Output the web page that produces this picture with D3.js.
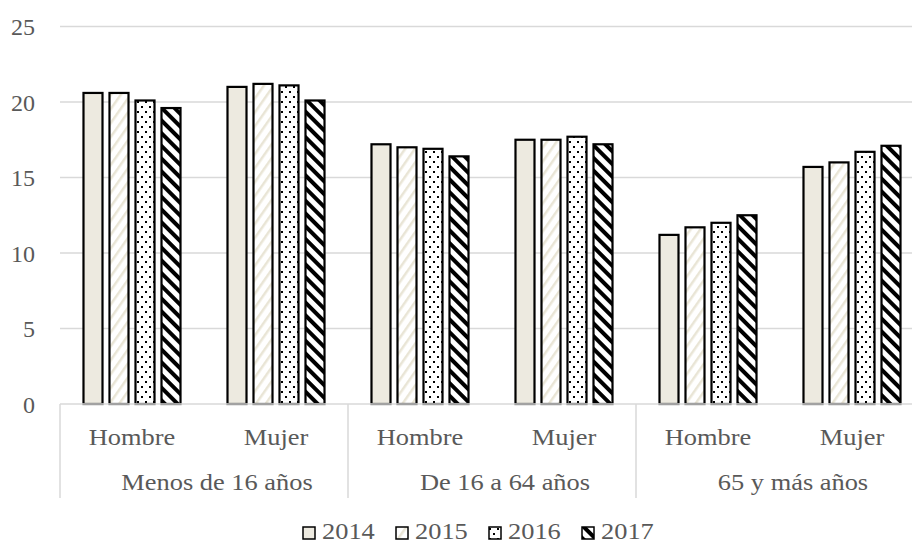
<!DOCTYPE html>
<html>
<head>
<meta charset="utf-8">
<script src="https://cdn.jsdelivr.net/npm/d3@7"></script>
<style>
  body { margin: 0; background: #fff; }
</style>
</head>
<body>
<svg id="chart" width="912" height="544"></svg>
<script>
// data
const groups = ["Menos de 16 años", "De 16 a 64 años", "65 y más años"];
const sexes = ["Hombre", "Mujer"];
const years = ["2014", "2015", "2016", "2017"];
const yTicks = [0, 5, 10, 15, 20, 25];
// values per year, order: group x sex
const v2014 = [20.6, 21.0, 17.2, 17.5, 11.2, 15.7];
const v2015 = [20.6, 21.2, 17.0, 17.5, 11.7, 16.0];
const v2016 = [20.1, 21.1, 16.9, 17.7, 12.0, 16.7];
const v2017 = [19.6, 20.1, 16.4, 17.2, 12.5, 17.1];

const series = [v2014, v2015, v2016, v2017];
const rows = [];
groups.forEach((g, gi) => sexes.forEach((s, si) => {
  const idx = gi * 2 + si;
  years.forEach((y, yi) => rows.push({ group: g, sex: s, year: y, value: series[yi][idx] }));
}));

const svg = d3.select("#chart");
const txt = "#595959", grid = "#d9d9d9";
const font = "Liberation Serif";

// patterns
const defs = svg.append("defs");
let p = defs.append("pattern").attr("id", "p2015").attr("patternUnits", "userSpaceOnUse")
  .attr("width", 8).attr("height", 8).attr("patternTransform", "rotate(35)");
p.append("rect").attr("width", 8).attr("height", 8).attr("fill", "#fff");
p.append("rect").attr("x", 0).attr("width", 2.5).attr("height", 8).attr("fill", "#e9e5d6");

p = defs.append("pattern").attr("id", "p2016").attr("patternUnits", "userSpaceOnUse")
  .attr("width", 8).attr("height", 10);
p.append("rect").attr("width", 8).attr("height", 10).attr("fill", "#fff");
p.append("rect").attr("x", 1).attr("y", 1).attr("width", 2).attr("height", 2).attr("fill", "#000");
p.append("rect").attr("x", 5).attr("y", 6).attr("width", 2).attr("height", 2).attr("fill", "#000");

p = defs.append("pattern").attr("id", "p2017").attr("patternUnits", "userSpaceOnUse")
  .attr("width", 9).attr("height", 9).attr("patternTransform", "rotate(-45)");
p.append("rect").attr("width", 9).attr("height", 9).attr("fill", "#fff");
p.append("rect").attr("x", 0).attr("width", 4).attr("height", 9).attr("fill", "#000");

const fills = { "2014": "#edeae0", "2015": "url(#p2015)", "2016": "url(#p2016)", "2017": "url(#p2017)" };

// scales
const x0 = d3.scaleBand().domain(groups).range([60, 924]);
const x1 = d3.scaleBand().domain(sexes).range([0, x0.bandwidth()]);
const x2 = d3.scaleBand().domain(years).range([0, x1.bandwidth()])
  .paddingInner(0.192).paddingOuter(0.865);
const y = d3.scaleLinear().domain([0, 25]).range([404, 26.5]);

// gridlines
svg.append("g").selectAll("line").data(yTicks.filter(d => d > 0)).enter().append("line")
  .attr("x1", 60).attr("x2", 912)
  .attr("y1", d => y(d)).attr("y2", d => y(d))
  .attr("stroke", grid).attr("stroke-width", 1.5);

// y labels
const yAxis = svg.append("g").attr("transform", "translate(35,0)")
  .call(d3.axisLeft(y).tickValues(yTicks).tickSize(0).tickPadding(0));
yAxis.select(".domain").remove();
yAxis.selectAll("text").attr("fill", txt).attr("font-size", 24)
  .attr("font-family", font).attr("dy", "0.35em");

// bars
svg.append("g").selectAll("rect").data(rows).enter().append("rect")
  .attr("x", d => x0(d.group) + x1(d.sex) + x2(d.year) + 1)
  .attr("y", d => y(d.value))
  .attr("width", x2.bandwidth() - 2)
  .attr("height", d => y(0) - y(d.value))
  .attr("fill", d => fills[d.year])
  .attr("stroke", "#000").attr("stroke-width", 2.2);

// category axis
svg.append("line").attr("x1", 60).attr("x2", 912).attr("y1", 404).attr("y2", 404)
  .attr("stroke", grid).attr("stroke-width", 1.5);
svg.append("g").selectAll("line").data(groups.concat(["end"])).enter().append("line")
  .attr("x1", (d, i) => 60 + i * x0.bandwidth()).attr("x2", (d, i) => 60 + i * x0.bandwidth())
  .attr("y1", 404).attr("y2", 498)
  .attr("stroke", grid).attr("stroke-width", 1.5);

// labels a bit wider than the font, like the reference
function label(sel) {
  sel.attr("font-family", font).attr("font-size", 24).attr("fill", txt);
}

const sexLabels = [];
groups.forEach(g => sexes.forEach(s => sexLabels.push({ group: g, sex: s })));
svg.append("g").selectAll("text").data(sexLabels).enter().append("text")
  .attr("transform", d => "translate(" + (x0(d.group) + x1(d.sex) + x1.bandwidth() / 2) + ",445) scale(1.1,1)")
  .attr("text-anchor", "middle")
  .call(label)
  .text(d => d.sex);
svg.append("g").selectAll("text").data(groups).enter().append("text")
  .attr("transform", d => "translate(" + (x0(d) + x0.bandwidth() / 2 + 13) + ",490) scale(1.1,1)")
  .attr("text-anchor", "middle")
  .call(label)
  .text(d => d);

// legend
const leg = svg.append("g").selectAll("g").data(years).enter().append("g")
  .attr("transform", (d, i) => "translate(" + (302 + i * 93) + ",527)");
leg.append("rect").attr("x", 1).attr("y", 0).attr("width", 12).attr("height", 12)
  .attr("fill", d => fills[d]).attr("stroke", "#000").attr("stroke-width", 1.5);
leg.append("text").attr("transform", "translate(20,12) scale(1.1,1)")
  .call(label).text(d => d);
</script>
</body>
</html>
